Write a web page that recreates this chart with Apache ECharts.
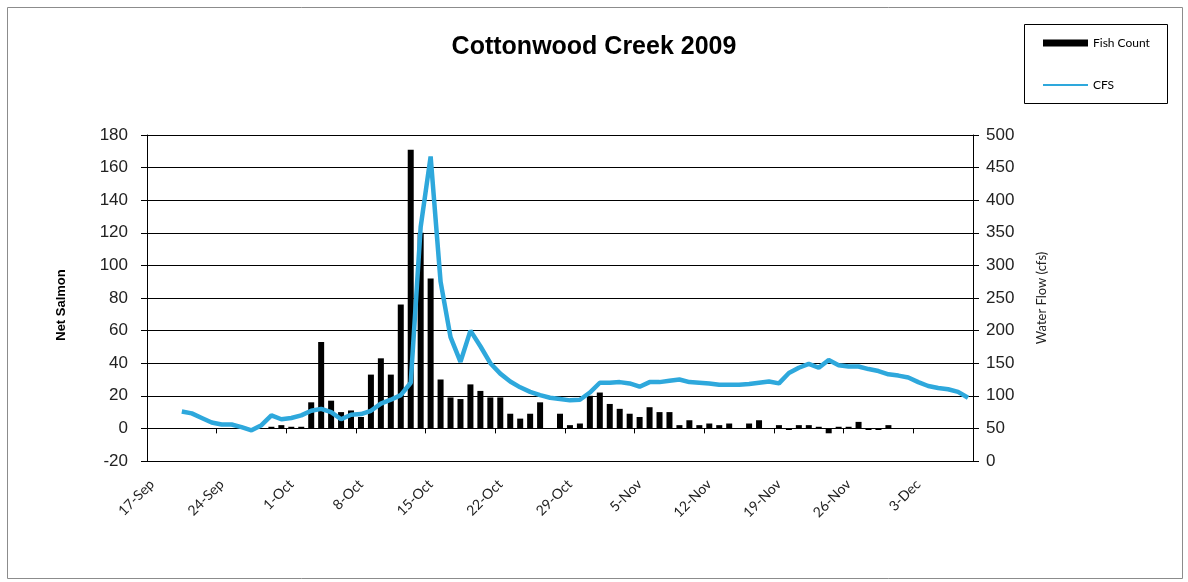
<!DOCTYPE html>
<html>
<head>
<meta charset="utf-8">
<title>Cottonwood Creek 2009</title>
<script src="https://cdn.jsdelivr.net/npm/echarts@6/dist/echarts.min.js"></script>
<style>
  html, body { margin: 0; padding: 0; background: #fff; }
  #chart { width: 1188px; height: 582px; }
</style>
</head>
<body>
<div id="chart"></div>
<script>
// one category per day, 17-Sep .. 8-Dec
const days = [
  '17-Sep','18-Sep','19-Sep','20-Sep','21-Sep','22-Sep','23-Sep','24-Sep','25-Sep','26-Sep','27-Sep','28-Sep','29-Sep','30-Sep',
  '1-Oct','2-Oct','3-Oct','4-Oct','5-Oct','6-Oct','7-Oct','8-Oct','9-Oct','10-Oct','11-Oct','12-Oct','13-Oct','14-Oct',
  '15-Oct','16-Oct','17-Oct','18-Oct','19-Oct','20-Oct','21-Oct','22-Oct','23-Oct','24-Oct','25-Oct','26-Oct','27-Oct','28-Oct',
  '29-Oct','30-Oct','31-Oct','1-Nov','2-Nov','3-Nov','4-Nov','5-Nov','6-Nov','7-Nov','8-Nov','9-Nov','10-Nov','11-Nov',
  '12-Nov','13-Nov','14-Nov','15-Nov','16-Nov','17-Nov','18-Nov','19-Nov','20-Nov','21-Nov','22-Nov','23-Nov','24-Nov','25-Nov',
  '26-Nov','27-Nov','28-Nov','29-Nov','30-Nov','1-Dec','2-Dec','3-Dec','4-Dec','5-Dec','6-Dec','7-Dec','8-Dec'
];

// net salmon per day (left axis)
const fishCount = [
  null, null, null, null, null, null, null, null, null, null, null, null, 1, 2,
  1, 1, 16, 53, 17, 10, 11, 7, 33, 43, 33, 76, 171, 120,
  92, 30, 19, 18, 27, 23, 19, 19, 9, 6, 9, 16, null, 9,
  2, 3, 20, 22, 15, 12, 9, 7, 13, 10, 10, 2, 5, 2,
  3, 2, 3, null, 3, 5, null, 2, -1, 2, 2, 1, -3, 1,
  1, 4, -1, -1, 2, null, null, null, null, null, null, null, null
];

// water flow in cfs (right axis)
const cfs = [
  null, null, null, 76, 73, 66, 59, 56, 56, 52, 47, 55, 70, 64,
  66, 70, 77, 80, 75, 64, 71, 72, 77, 88, 94, 101, 120, 359,
  467, 275, 190, 152, 200, 176, 150, 134, 122, 113, 106, 101, 97, 95,
  93, 94, 105, 120, 120, 121, 119, 114, 121, 121, 123, 125, 121, 120,
  119, 117, 117, 117, 118, 120, 122, 119, 135, 143, 149, 143, 155, 147,
  145, 145, 141, 138, 133, 131, 128, 121, 115, 112, 110, 106, 97
];

const chart = echarts.init(document.getElementById('chart'));

chart.setOption({
  backgroundColor: '#fff',
  animation: false,
  title: {
    text: 'Cottonwood Creek 2009',
    left: 'center',
    top: 30,
    padding: [5, 0, 5, 14],
    textStyle: { fontFamily: 'Liberation Sans', fontSize: 25, fontWeight: 'bold', color: '#000' }
  },
  graphic: [
    { type: 'rect', shape: { x: 7.5, y: 7.5, width: 1175, height: 571 }, style: { fill: 'none', stroke: '#8c8c8c', lineWidth: 1 }, silent: true },
    { type: 'rect', shape: { x: 1024.5, y: 24.5, width: 143, height: 79 }, style: { fill: 'none', stroke: '#000', lineWidth: 1 }, silent: true }
  ],
  legend: {
    orient: 'vertical',
    left: 1042,
    top: 36,
    padding: 0,
    itemWidth: 45,
    itemHeight: 7,
    itemGap: 28,
    textStyle: { fontFamily: 'Lato', fontSize: 12, color: '#000', lineHeight: 14 },
    data: [
      { name: 'Fish Count', icon: 'rect' },
      { name: 'CFS', itemStyle: { opacity: 0 } }
    ]
  },
  grid: { left: 147, right: 215, top: 135, bottom: 121 },
  xAxis: [
    {
      type: 'category',
      data: days,
      boundaryGap: true,
      axisLine: { show: false, onZero: false },
      axisTick: { show: false },
      axisLabel: {
        interval: 6,
        rotate: 45,
        margin: 21,
        fontFamily: 'Lato',
        fontSize: 14,
        color: '#222'
      },
      splitLine: { show: false }
    },
    {
      type: 'category',
      data: days,
      position: 'bottom',
      boundaryGap: true,
      axisLine: { show: true, onZero: true, lineStyle: { color: '#000', width: 1 } },
      axisTick: { show: true, interval: 6, length: 5, lineStyle: { color: '#000' } },
      axisLabel: { show: false },
      splitLine: { show: false }
    }
  ],
  yAxis: [
    {
      type: 'value',
      name: 'Net Salmon',
      nameLocation: 'middle',
      nameRotate: 90,
      nameGap: 79,
      nameTextStyle: { fontFamily: 'Liberation Sans', fontSize: 13, fontWeight: 'bold', color: '#000', padding: [0, 14, 0, 0] },
      min: -20,
      max: 180,
      interval: 20,
      axisLine: { show: true, lineStyle: { color: '#000' } },
      axisTick: { show: true, length: 6, lineStyle: { color: '#000' } },
      axisLabel: { margin: 19, fontFamily: 'Liberation Sans', fontSize: 17, color: '#222' },
      splitLine: { show: true, lineStyle: { color: '#000', width: 1 } }
    },
    {
      type: 'value',
      name: 'Water Flow (cfs)',
      nameLocation: 'middle',
      nameRotate: 90,
      nameGap: 62,
      nameTextStyle: { fontFamily: 'Lato', fontSize: 13, color: '#222' },
      min: 0,
      max: 500,
      interval: 50,
      axisLine: { show: true, lineStyle: { color: '#000' } },
      axisTick: { show: true, length: 6, lineStyle: { color: '#000' } },
      axisLabel: { margin: 13, fontFamily: 'Liberation Sans', fontSize: 17, color: '#222' },
      splitLine: { show: false }
    }
  ],
  series: [
    {
      name: 'Fish Count',
      type: 'bar',
      xAxisIndex: 0,
      yAxisIndex: 0,
      data: fishCount,
      barWidth: 6,
      itemStyle: { color: '#000' }
    },
    {
      name: 'CFS',
      type: 'line',
      xAxisIndex: 0,
      yAxisIndex: 1,
      data: cfs,
      symbol: 'none',
      lineStyle: { color: '#2ea8dc', width: 4.5 },
      itemStyle: { color: '#2ea8dc' },
      z: 3
    }
  ]
});
</script>
</body>
</html>
